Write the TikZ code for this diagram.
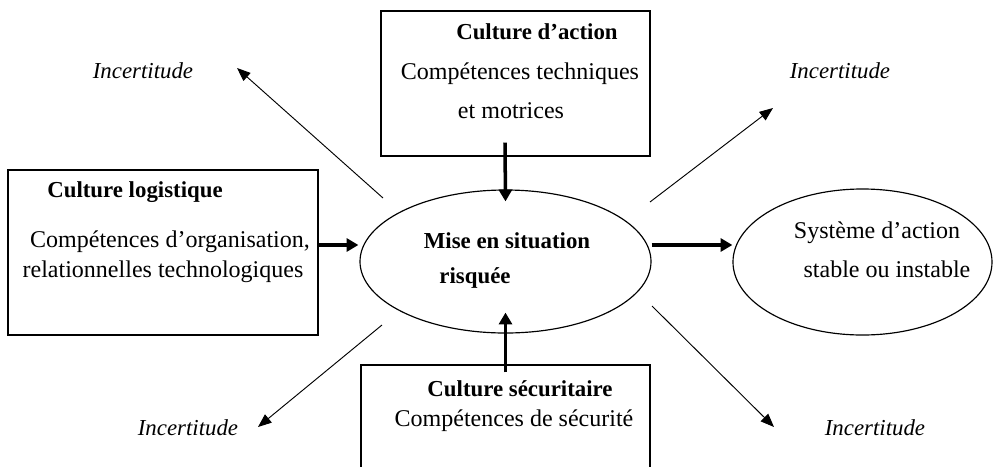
\documentclass[tikz,border=0pt]{standalone}
\usepackage{fontspec}
\setmainfont{Liberation Serif}
\usetikzlibrary{shapes.geometric, arrows.meta, calc}
\tikzstyle{culture} = [rectangle, draw=black, line width=1pt, inner sep=0pt]
\tikzstyle{situation} = [ellipse, draw=black, line width=1pt, inner sep=0pt]
\tikzstyle{txt} = [anchor=base, inner sep=0pt, font=\fontsize{20.5}{24}\selectfont]
\tikzstyle{titre} = [txt, font=\fontsize{19.5}{23}\selectfont\bfseries]
\tikzstyle{incert} = [txt, font=\fontsize{19.5}{23}\selectfont\itshape]
\tikzstyle{bigarrow} = [line width=3pt, -{Triangle[length=10pt,width=11pt]}]
\tikzstyle{thinarrow} = [line width=0.8pt, -{Triangle[length=11.5pt,width=9pt]}]
\begin{document}
\begin{tikzpicture}[x=0.03cm, y=-0.03cm]
                \useasboundingbox (0,0) rectangle (994,466);
                \clip (0,0) rectangle (994,466);
                % cultures
                \node (logbox) [culture, minimum width=9.3cm, minimum height=4.95cm] at (163,252.5) {};
                \node (actbox) [culture, minimum width=8.07cm, minimum height=4.35cm] at (515.5,83.5) {};
                \node (secbox) [culture, minimum width=8.67cm, minimum height=3.75cm] at (505.5,427.5) {};
                \node (mid) [situation, minimum width=8.73cm, minimum height=4.29cm] at (505.5,261.5) {};
                \node (sys) [situation, minimum width=7.77cm, minimum height=4.38cm] at (862.5,262) {};

                \node (logtitle) [titre] at (135,197) {Culture logistique};
                \node (logline1) [txt] at (170,247) {Compétences d’organisation,};
                \node (logline2) [txt] at (163,277) {relationnelles technologiques};
                \node (acttitle) [titre] at (537,39) {Culture d’action};
                \node (actline1) [txt] at (520,79) {Compétences techniques};
                \node (actline2) [txt] at (511,118) {et motrices};
                \node (sectitle) [titre] at (520,396) {Culture sécuritaire};
                \node (secline1) [txt] at (514,426) {Compétences de sécurité};
                \node (midline1) [titre] at (507,248) {Mise en situation};
                \node (midline2) [titre] at (475,283) {risquée};
                \node (sysline1) [txt] at (877,238) {Système d’action};
                \node (sysline2) [txt] at (887,277) {stable ou instable};

                \node (inc1) [incert] at (143,78) {Incertitude};
                \node (inc2) [incert] at (840,78) {Incertitude};
                \node (inc3) [incert] at (188,435) {Incertitude};
                \node (inc4) [incert] at (875,435) {Incertitude};

                \draw [bigarrow] ($(logbox.east)+(0,-7.5)$) -- ($(mid.west)+(-1,-16.5)$);
                \draw [bigarrow] ($(actbox.south)+(-10.5,-14)$) -- ($(mid.north)+(0,12)$);
                \draw [bigarrow] ($(secbox.north)+(0,8)$) -- ($(mid.south)+(0,-21)$);
                \draw [bigarrow] ($(mid.east)+(0,-16.5)$) -- ($(sys.west)+(0,-17)$);

                \draw [thinarrow] ($(mid.center)+(-122.5,-63.5)$) -- ($(inc1.base)+(94,-10)$);
                \draw [thinarrow] ($(mid.center)+(144.5,-59.5)$) -- ($(inc2.base)+(-67,30)$);
                \draw [thinarrow] ($(mid.center)+(-123.5,63.5)$) -- ($(inc3.base)+(70,-8)$);
                \draw [thinarrow] ($(mid.center)+(146.5,44.5)$) -- ($(inc4.base)+(-101,-8)$);
            \end{tikzpicture}
\end{document}
